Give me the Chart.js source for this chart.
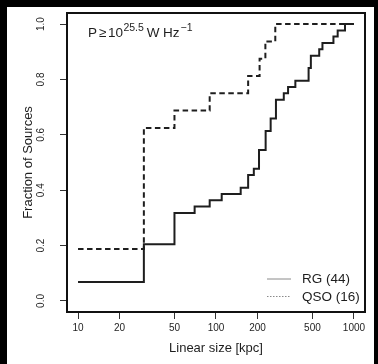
<!DOCTYPE html>
<html>
<head>
<meta charset="utf-8">
<script src="https://cdn.jsdelivr.net/npm/chart.js@4.4.1/dist/chart.umd.min.js"></script>
<style>
  html, body { margin: 0; padding: 0; background: #000; }
  canvas { display: block; }
</style>
</head>
<body>
<canvas id="cdfChart" width="378" height="364"></canvas>
<script>
'use strict';

// Data (linear size in kpc, cumulative fraction)
const rgSizes = [10, 30, 50, 70, 90, 110, 151, 171, 188, 205, 229, 249, 272, 310, 333, 376, 469, 487, 560, 591, 710, 762, 861, 1000];
const rgFractions = [0.068, 0.205, 0.318, 0.341, 0.364, 0.386, 0.409, 0.455, 0.477, 0.545, 0.614, 0.659, 0.727, 0.750, 0.773, 0.795, 0.841, 0.886, 0.909, 0.932, 0.955, 0.977, 1.0, 1.0];
const qsoSizes = [10, 30, 50, 90, 171, 207, 228, 269, 1000];
const qsoFractions = [0.1875, 0.625, 0.6875, 0.75, 0.8125, 0.875, 0.9375, 1.0, 1.0];
const xTicks = [10, 20, 50, 100, 200, 500, 1000];
const yTicks = [0, 0.2, 0.4, 0.6, 0.8, 1.0];
const seriesLabels = ['RG (44)', 'QSO (16)'];

const fontFamily = '"Liberation Sans", Arial, Helvetica, sans-serif';
const ink = '#1e1e1e';

function toPoints(xs, ys) {
  return xs.map((x, i) => ({ x: x, y: ys[i] }));
}

// black frame round the white figure
const backdrop = {
  id: 'backdrop',
  beforeDraw(chart) {
    const ctx = chart.ctx;
    ctx.save();
    ctx.fillStyle = '#000';
    ctx.fillRect(0, 0, chart.width, chart.height);
    ctx.fillStyle = '#fff';
    ctx.fillRect(7, 7, 367, 357);
    ctx.restore();
  }
};

// box, rotated y labels, annotation and legend, R style
const extras = {
  id: 'extras',
  afterDraw(chart) {
    const ctx = chart.ctx;
    const area = chart.chartArea;
    const yScale = chart.scales.y;
    ctx.save();
    ctx.strokeStyle = '#111';
    ctx.lineWidth = 2;
    ctx.strokeRect(area.left, area.top, area.right - area.left, area.bottom - area.top);

    // y tick labels, rotated like R's las = 0
    ctx.fillStyle = ink;
    ctx.font = '10px ' + fontFamily;
    ctx.textAlign = 'center';
    ctx.textBaseline = 'middle';
    for (const v of yTicks) {
      const py = yScale.getPixelForValue(v);
      ctx.save();
      ctx.translate(41, py);
      ctx.rotate(-Math.PI / 2);
      ctx.fillText(v.toFixed(1), 0, 0);
      ctx.restore();
    }

    // P >= 10^25.5 W Hz^-1
    ctx.textAlign = 'left';
    ctx.textBaseline = 'alphabetic';
    const big = '13.5px ' + fontFamily;
    const small = '10.5px ' + fontFamily;
    let x = 88;
    const base = 37;
    const parts = [
      ['P', big, 0, 2], ['\u2265', big, 0, 1.5], ['10', big, 0, 0.5],
      ['25.5', small, -6, 3], ['W', big, 0, 3.5], ['Hz', big, 0, 1],
      ['\u22121', small, -6, 0]
    ];
    for (const [txt, font, dy, gap] of parts) {
      ctx.font = font;
      ctx.fillText(txt, x, base + dy);
      x += ctx.measureText(txt).width + gap;
    }

    // legend
    ctx.font = '13.5px ' + fontFamily;
    ctx.textBaseline = 'middle';
    const rows = [279, 296.5];
    ctx.strokeStyle = '#8a8a8a';
    ctx.lineWidth = 1;
    rows.forEach((y, i) => {
      ctx.setLineDash(i === 0 ? [] : [1.5, 1.5]);
      ctx.beginPath();
      ctx.moveTo(267, y);
      ctx.lineTo(291, y);
      ctx.stroke();
      ctx.fillText(seriesLabels[i], 302, y + 0.5);
    });
    ctx.restore();
  }
};

const ctx = document.getElementById('cdfChart').getContext('2d');

const cdfChart = new Chart(ctx, {
  type: 'line',
  data: {
    datasets: [{
      label: seriesLabels[0],
      data: toPoints(rgSizes, rgFractions),
      borderColor: ink,
      borderWidth: 2,
      stepped: 'before',
      pointRadius: 0,
      fill: false
    }, {
      label: seriesLabels[1],
      data: toPoints(qsoSizes, qsoFractions),
      borderColor: ink,
      borderWidth: 2,
      borderDash: [5.5, 3.5],
      stepped: 'before',
      pointRadius: 0,
      fill: false
    }]
  },
  options: {
    responsive: false,
    animation: false,
    devicePixelRatio: 1,
    layout: { padding: { top: 13, right: 13, left: 0, bottom: 0 } },
    plugins: {
      legend: { display: false },
      tooltip: { enabled: false }
    },
    scales: {
      x: {
        type: 'logarithmic',
        min: 8.318,
        max: 1202.3,
        afterBuildTicks: (scale) => { scale.ticks = xTicks.map(v => ({ value: v })); },
        afterFit: (scale) => { scale.height = 52; },
        ticks: {
          callback: (value) => String(value),
          font: { family: fontFamily, size: 10 },
          color: ink,
          padding: 3,
          maxRotation: 0,
          autoSkip: false
        },
        grid: { drawOnChartArea: false, drawTicks: true, tickLength: 7, color: '#333', lineWidth: 1 },
        border: { display: false },
        title: {
          display: true,
          text: 'Linear size [kpc]',
          font: { family: fontFamily, size: 13 },
          color: ink,
          padding: { top: 0, bottom: 8 }
        }
      },
      y: {
        type: 'linear',
        min: -0.04,
        max: 1.04,
        afterBuildTicks: (scale) => { scale.ticks = yTicks.map(v => ({ value: v })); },
        afterFit: (scale) => { scale.width = 67; },
        ticks: {
          display: false,
          autoSkip: false
        },
        grid: { drawOnChartArea: false, drawTicks: true, tickLength: 7, color: '#333', lineWidth: 1 },
        border: { display: false },
        title: {
          display: true,
          text: 'Fraction of Sources',
          font: { family: fontFamily, size: 13 },
          color: ink,
          padding: { top: 21, bottom: 0 }
        }
      }
    }
  },
  plugins: [backdrop, extras]
});
</script>
</body>
</html>
